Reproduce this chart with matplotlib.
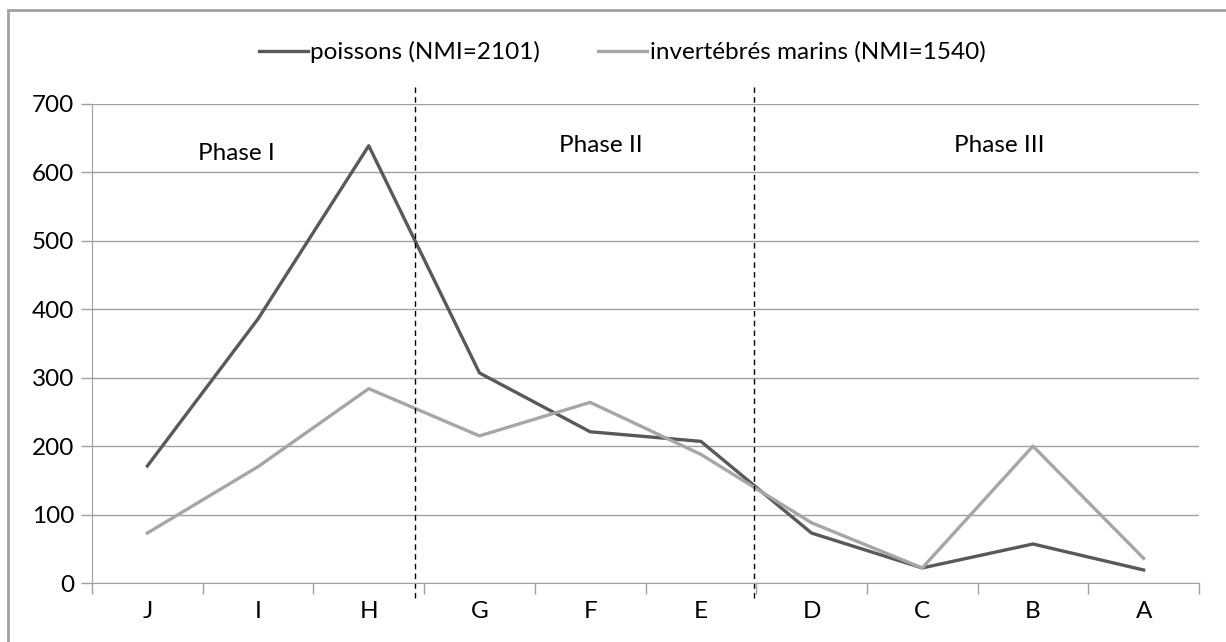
import matplotlib.pyplot as plt
from matplotlib.patches import Rectangle

# donnees
niveaux = ["J", "I", "H", "G", "F", "E", "D", "C", "B", "A"]
poissons = [171, 386, 639, 307, 221, 207, 73, 22, 57, 19]
invertebres = [73, 170, 284, 215, 264, 188, 88, 22, 200, 36]
phases = ["Phase I", "Phase II", "Phase III"]
phase_x = [0.8, 4.1, 7.7]
phase_y = [628, 640, 640]
limites = [2.42, 5.48]

plt.rcParams['font.family'] = ['Lato', 'DejaVu Sans']

fig = plt.figure(figsize=(12.26, 6.42), dpi=100)
ax = fig.add_axes([92/1226, 1-583/642, (1199-92)/1226, (583-104)/642])

x = list(range(len(niveaux)))
ax.plot(x, poissons, color="#595959", lw=2.4, label="poissons (NMI=2101)")
ax.plot(x, invertebres, color="#A6A6A6", lw=2.4, label="invertébrés marins (NMI=1540)")

ax.set_xlim(-0.5, len(niveaux) - 0.5)
ax.set_ylim(0, 700)
ax.set_yticks(range(0, 701, 100))
ax.set_xticks(x)
ax.set_xticklabels(niveaux)
ax.set_xticks([i - 0.5 for i in range(len(niveaux) + 1)], minor=True)
ax.tick_params(axis="x", which="major", length=0, pad=13, labelsize=17.5)
ax.tick_params(axis="x", which="minor", length=8, color="#A0A0A0", width=1)
ax.tick_params(axis="y", length=8, color="#A0A0A0", width=1, pad=5, labelsize=17.5)
ax.grid(axis="y", color="#A0A0A0", lw=1)
ax.set_axisbelow(True)
for s in ["top", "right"]:
    ax.spines[s].set_visible(False)
ax.spines["left"].set_color("#A0A0A0")
ax.spines["bottom"].set_color("#A0A0A0")

# separations entre les phases
for xl in limites:
    ax.plot([xl, xl], [-22, 725], color="black", lw=1, ls=(0, (4, 3)), clip_on=False)

for p, px, py in zip(phases, phase_x, phase_y):
    ax.text(px, py, p, ha="center", va="center", fontsize=17.5)

ax.legend(loc="center", bbox_to_anchor=(0.479, 1 + (104-52)/479), ncol=2, frameon=False,
          fontsize=17.5, handlelength=2.0, handletextpad=0.1, columnspacing=2.4)

fig.patches.append(Rectangle((8/1226, -0.1), 1.1, 1 - 10/642 + 0.1, transform=fig.transFigure,
                             fill=False, edgecolor="#A0A0A0", lw=2))

fig.savefig("out.png", dpi=100)
